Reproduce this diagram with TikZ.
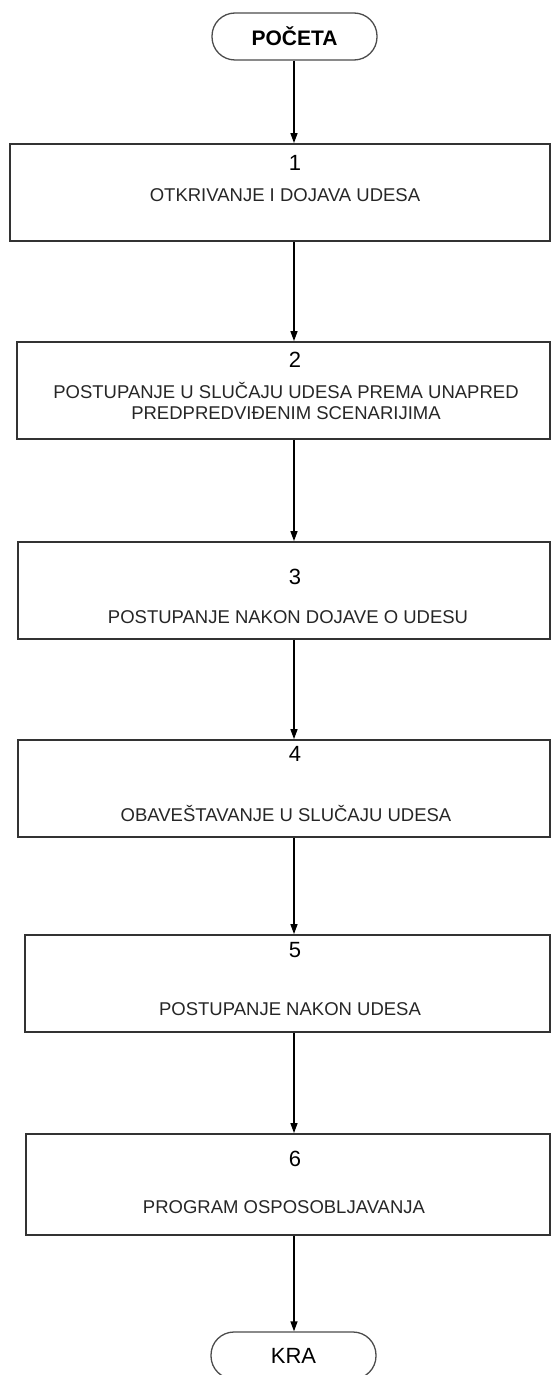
\documentclass[tikz,border=0pt]{standalone}
\usepackage{fontspec}
\setmainfont{Liberation Sans}
\usepackage{tikz}
\usetikzlibrary{arrows.meta}

\begin{document}
\begin{tikzpicture}[x=1pt, y=-1pt,
  term/.style={draw=black!70, line width=1.3pt, minimum width=165pt,
               minimum height=47pt, rounded corners=23pt, inner sep=0pt},
  stepbox/.style={draw=black!80, line width=1.8pt, inner sep=0pt},
  num/.style={font=\fontsize{22}{24}\selectfont, inner sep=0pt},
  txt/.style={font=\fontsize{18.5}{21}\selectfont, align=center, inner sep=0pt, text=black!85},
  arr/.style={-{Triangle[length=10pt, width=7pt]}, line width=1.3pt, black}
]
  \useasboundingbox (0,0) rectangle (552,1375);
  \clip (0,0) rectangle (552,1375);
  \coordinate (axis) at (294,0);
  % Terminals
  \node[term, font=\bfseries\fontsize{21}{24}\selectfont] (start) at (294.5,36.5) {POČETA};
  \node[term, font=\fontsize{22}{24}\selectfont] (stop) at (293.5,1355.5) {KRA};
  % Steps
  \node[stepbox, minimum width=540pt, minimum height=97pt] (b1) at (280,192.5) {};
  \node[num] (n1) at (295,163) {1};
  \node[txt] (t1) at (285,195) {OTKRIVANJE I DOJAVA UDESA};

  \node[stepbox, minimum width=533pt, minimum height=97pt] (b2) at (283.5,390.5) {};
  \node[num] (n2) at (295,360) {2};
  \node[txt] (t2) at (286,401) {POSTUPANJE U SLUČAJU UDESA PREMA UNAPRED\\PREDPREDVIĐENIM SCENARIJIMA};

  \node[stepbox, minimum width=532pt, minimum height=97pt] (b3) at (284,590.5) {};
  \node[num] (n3) at (295,577) {3};
  \node[txt] (t3) at (288,617) {POSTUPANJE NAKON DOJAVE O UDESU};

  \node[stepbox, minimum width=532pt, minimum height=97pt] (b4) at (284,788.5) {};
  \node[num] (n4) at (295,754) {4};
  \node[txt] (t4) at (286,813) {OBAVEŠTAVANJE U SLUČAJU UDESA};

  \node[stepbox, minimum width=525pt, minimum height=97pt] (b5) at (287.5,983.5) {};
  \node[num] (n5) at (295,950) {5};
  \node[txt] (t5) at (290,1009) {POSTUPANJE NAKON UDESA};

  \node[stepbox, minimum width=524pt, minimum height=101pt] (b6) at (288,1184.5) {};
  \node[num] (n6) at (295,1159) {6};
  \node[txt] (t6) at (284,1207) {PROGRAM OSPOSOBLJAVANJA};
  % Flow
  \draw[arr] (start.south -| axis) -- (b1.north -| axis);
  \draw[arr] (b1.south -| axis) -- (b2.north -| axis);
  \draw[arr] (b2.south -| axis) -- (b3.north -| axis);
  \draw[arr] (b3.south -| axis) -- (b4.north -| axis);
  \draw[arr] (b4.south -| axis) -- (b5.north -| axis);
  \draw[arr] (b5.south -| axis) -- (b6.north -| axis);
  \draw[arr] (b6.south -| axis) -- (stop.north -| axis);
\end{tikzpicture}
\end{document}
